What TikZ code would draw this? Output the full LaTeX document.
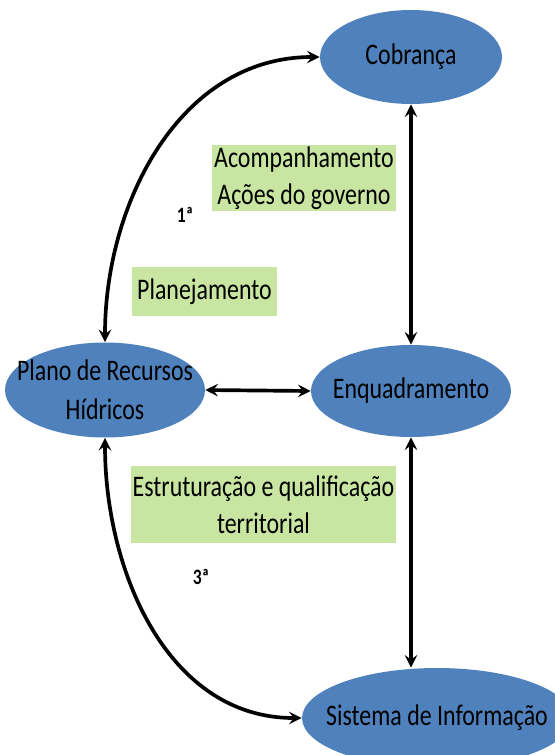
\documentclass[tikz,border=0pt]{standalone}
\usepackage{fontspec}
\setmainfont{Carlito}[FakeStretch=0.8]
\usepackage{tikz}
\usetikzlibrary{shapes.geometric,arrows,positioning}
\definecolor{azul}{RGB}{79,129,189}
\definecolor{verde}{RGB}{200,230,162}
\tikzset{
	etapa/.style={ellipse, fill=azul, inner sep=0pt},
	tema/.style={fill=verde, align=center, inner sep=0pt},
	seta/.style={stealth-stealth, line width=2.1pt},
	ordem/.style={font=\fontsize{12.5}{13}\selectfont\bfseries}
}
\begin{document}
\begin{tikzpicture}[x=0.02cm, y=-0.02cm, font=\fontsize{17}{21}\selectfont]
				\useasboundingbox (0,0) rectangle (555,755);
				% etapas
				\node[etapa, minimum width=3.64cm, minimum height=1.88cm, label={center:Cobrança}] (co) at (411,57) {};
				\node[etapa, minimum width=4cm, minimum height=1.9cm, label={[align=center]center:Plano de Recursos\\[1pt]Hídricos}] (pl) at (105,390) {};
				\node[etapa, minimum width=4cm, minimum height=1.84cm, label={center:Enquadramento}] (eq) at (411,391) {};
				\node[etapa, minimum width=5.4cm, minimum height=2cm, label={center:Sistema de Informação}] (si) at (437,718) {};
				% temas
				\node[tema, minimum width=3.68cm, minimum height=1.32cm] (ac) at (304,178) {Acompanhamento\\Ações do governo};
				\node[tema, minimum width=2.9cm, minimum height=0.98cm] (pj) at (204.5,291.5) {Planejamento};
				\node[tema, minimum width=5.3cm, minimum height=1.54cm] (es) at (263.5,504.5) {Estruturação e qualificação\\territorial};
				\node[ordem] (um) at (185,215) {1ª};
				\node[ordem] (tres) at (201,577) {3ª};
				% setas
				\draw[seta] (pl.north) to[out=90, in=180] (co.west);
				\draw[seta] (co.south) -- (eq.north);
				\draw[seta] (pl.east) -- (eq.west);
				\draw[seta] (eq.south) -- (si.north -| eq.south);
				\draw[seta] (pl.south) to[out=-90, in=180] (si.west);
			\end{tikzpicture}
\end{document}
